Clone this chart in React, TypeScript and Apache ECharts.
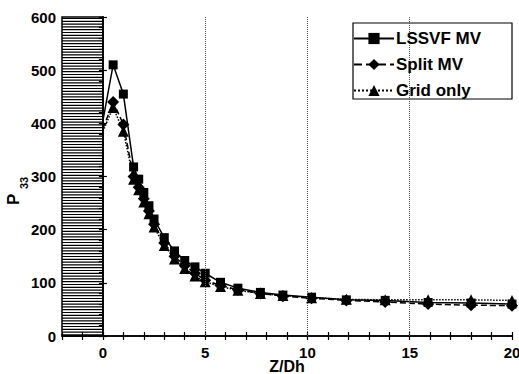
import React, { useEffect, useRef } from "react";
import * as echarts from "echarts";

const zPositions = [0, 0.5, 1.0, 1.5, 1.75, 2.0, 2.25, 2.5, 3.0, 3.5, 4.0, 4.5, 5.0, 5.75, 6.6, 7.7, 8.8, 10.2, 11.9, 13.8, 15.9, 18.0, 20];
const lssvfMV = [405, 510, 455, 318, 295, 270, 245, 220, 185, 160, 142, 130, 118, 101, 90, 82, 77, 73, 68, 67, 63, 62, 60];
const splitMV = [390, 440, 398, 300, 280, 258, 235, 210, 175, 150, 132, 118, 105, 95, 87, 80, 75, 71, 67, 64, 60, 58, 57];
const gridOnly = [385, 430, 385, 295, 275, 252, 230, 205, 170, 145, 127, 113, 102, 93, 86, 80, 76, 72, 69, 68, 68, 68, 67];
const xTickLabels = [0, 5, 10, 15, 20];
const yTickLabels = [0, 100, 200, 300, 400, 500, 600];
const gridLinesAt = [5, 10, 15];
const inletRegion = [[-2, 0, 0, 600]];

const FONT = "'Liberation Sans', Arial, sans-serif";

function toData(ys: number[]) {
  return ys.map((y, i) =>
    i === 0 ? { value: [zPositions[i], y], symbol: "none" } : { value: [zPositions[i], y] }
  );
}

export default function App() {
  const ref = useRef<HTMLDivElement>(null);
  useEffect(() => {
    if (!ref.current) return;
    const chart = echarts.init(ref.current, undefined, { renderer: "svg" });
    const axisCommon = {
      type: "value" as const,
      axisLine: { show: true, lineStyle: { color: "#000", width: 1.5 } },
      splitLine: { show: false },
    };
    const tick = { show: true, inside: true, length: 4, lineStyle: { color: "#000", width: 1.2 } };
    chart.setOption({
      animation: false,
      backgroundColor: "#fff",
      grid: { left: 62, right: 7, top: 17, bottom: 38, outerBoundsMode: "none", containLabel: false },
      legend: {
        orient: "vertical",
        left: 353,
        top: 30,
        padding: 0,
        z: 10,
        itemWidth: 40,
        itemHeight: 14,
        itemGap: 9,
        textStyle: { fontFamily: FONT, fontSize: 17, fontWeight: "bold", color: "#000", lineHeight: 14, padding: [0, 0, 0, -3] },
        data: ["LSSVF MV", "Split MV", "Grid only"],
      },
      xAxis: [
        {
          ...axisCommon,
          min: -2,
          max: 20,
          interval: 1,
          axisTick: tick,
          axisLabel: {
            fontFamily: FONT,
            fontSize: 15,
            lineHeight: 12,
            fontWeight: "bold",
            color: "#000",
            margin: 10,
            formatter: (v: number) => (xTickLabels.includes(v) ? String(v) : ""),
          },
          name: "Z/Dh",
          nameLocation: "middle",
          nameGap: 24,
          nameMoveOverlap: false,
          nameTextStyle: { fontFamily: FONT, fontSize: 16, lineHeight: 13, fontWeight: "bold", color: "#000" },
        },
        {
          ...axisCommon,
          position: "top",
          min: -2,
          max: 20,
          interval: 1,
          axisTick: tick,
          axisLabel: { show: false },
        },
      ],
      yAxis: [
        {
          ...axisCommon,
          min: 0,
          max: 600,
          interval: 100,
          axisTick: tick,
          axisLabel: {
            fontFamily: FONT,
            fontSize: 15,
            fontWeight: "bold",
            color: "#000",
            margin: 6,
            formatter: (v: number) => (yTickLabels.includes(v) ? String(v) : ""),
          },
        },
        {
          ...axisCommon,
          position: "right",
          min: 0,
          max: 600,
          interval: 20,
          axisTick: tick,
          axisLabel: { show: false },
        },
      ],
      graphic: [
        {
          type: "rect",
          z: 5,
          shape: { x: 353, y: 23, width: 159, height: 76 },
          style: { fill: "#fff", stroke: "#000", lineWidth: 1.2 },
        },
        {
          type: "text",
          x: 5,
          y: 205,
          rotation: Math.PI / 2,
          style: { text: "P", fontFamily: FONT, fontSize: 17, fontWeight: "bold", fill: "#000" },
        },
        {
          type: "text",
          x: 18,
          y: 189,
          rotation: Math.PI / 2,
          style: { text: "33", fontFamily: FONT, fontSize: 11, fontWeight: "bold", fill: "#000" },
        },
      ],
      series: [
        {
          type: "custom",
          silent: true,
          z: 1,
          data: inletRegion,
          renderItem: (params: any, api: any) => {
            const tl = api.coord([api.value(0), api.value(3)]);
            const br = api.coord([api.value(1), api.value(2)]);
            const children: any[] = [];
            for (let y = tl[1] + 1.5; y < br[1]; y += 2.8) {
              children.push({
                type: "line",
                shape: { x1: tl[0], y1: y, x2: br[0], y2: y },
                style: { stroke: "#000", lineWidth: 1.2 },
              });
            }
            children.push({
              type: "rect",
              shape: { x: tl[0], y: tl[1], width: br[0] - tl[0], height: br[1] - tl[1] },
              style: { fill: "none", stroke: "#000", lineWidth: 1.5 },
            });
            return { type: "group", children };
          },
        },
        {
          name: "LSSVF MV",
          type: "line",
          z: 4,
          data: toData(lssvfMV),
          symbol: "rect",
          symbolSize: 9,
          itemStyle: { color: "#000" },
          lineStyle: { color: "#000", width: 1.5, type: "solid" },
          markLine: {
            silent: true,
            symbol: "none",
            label: { show: false },
            lineStyle: { color: "#555", width: 1, type: "dotted" },
            data: gridLinesAt.map((v) => ({ xAxis: v })),
          },
        },
        {
          name: "Split MV",
          type: "line",
          z: 3,
          data: toData(splitMV),
          symbol: "diamond",
          symbolSize: 12,
          itemStyle: { color: "#000" },
          lineStyle: { color: "#000", width: 1.5, type: "dashed" },
        },
        {
          name: "Grid only",
          type: "line",
          z: 3,
          data: toData(gridOnly),
          symbol: "triangle",
          symbolSize: 11,
          itemStyle: { color: "#000" },
          lineStyle: { color: "#000", width: 1.5, type: "dotted" },
        },
      ],
    });
    return () => chart.dispose();
  }, []);
  return (
    <div
      ref={ref}
      style={{ position: "absolute", left: 0, top: 0, width: 519, height: 374 }}
    />
  );
}
